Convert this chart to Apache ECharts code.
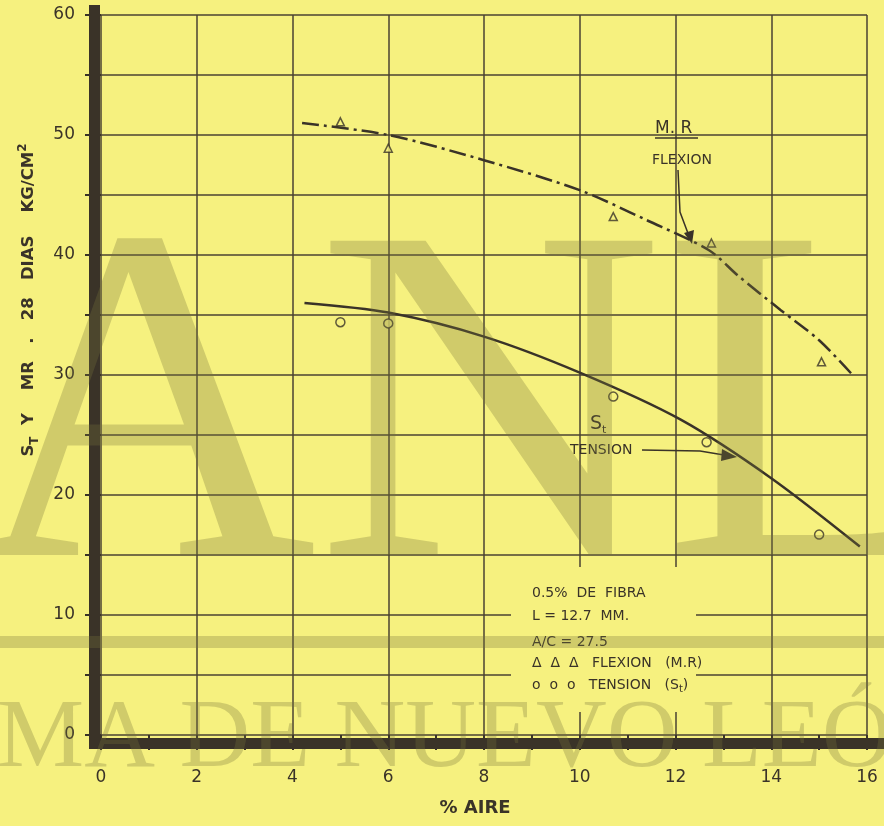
<!DOCTYPE html>
<html>
<head>
<meta charset="utf-8">
<script src="https://cdn.jsdelivr.net/npm/echarts@6/dist/echarts.min.js"></script>
<style>
html, body { margin: 0; padding: 0; background: #f6f17f; }
#chart { width: 884px; height: 826px; }
</style>
</head>
<body>
<div id="chart"></div>
<script>
// puntos medidos
let flexX = [5.0, 6.0, 10.7, 12.75, 15.05];
let flexY = [51.1, 48.9, 43.2, 41.0, 31.1];
let tensX = [5.0, 6.0, 10.7, 12.65, 15.0];
let tensY = [34.4, 34.3, 28.2, 24.4, 16.7];

// curvas trazadas
let mrCurveX = [4.2, 6, 8, 10, 11.4, 12.7, 13.3, 14.2, 15, 15.7];
let mrCurveY = [51.0, 50.0, 47.9, 45.4, 42.9, 40.4, 38.3, 35.4, 32.9, 30.0];
let stCurveX = [4.25, 6, 8, 10, 12.1, 14, 15.85];
let stCurveY = [36.0, 35.2, 33.2, 30.2, 26.3, 21.4, 15.7];

let xTicks = [0, 2, 4, 6, 8, 10, 12, 14, 16];
let yTicks = [0, 10, 20, 30, 40, 50, 60];

let bg = "#f6f17f";
let ink = "#3a3328";
let gridInk = "#4a4232";
let wm = "rgba(120, 115, 60, 0.30)";

function pairs(xs, ys) {
    return xs.map(function (x, i) { return [x, ys[i]]; });
}

let dom = document.getElementById("chart");
let myChart = echarts.init(dom, null, { renderer: "canvas" });

let labelFont = { fontFamily: "DejaVu Sans", color: ink };
let noteFont = "DejaVu Sans";

let option = {
    backgroundColor: bg,
    animation: false,
    grid: { left: 101, right: 17, top: 15, bottom: 91 },
    xAxis: {
        type: "value",
        min: xTicks[0],
        max: xTicks[xTicks.length - 1],
        interval: 2,
        offset: 8,
        axisLine: { show: false },
        axisTick: { show: true, length: 15, lineStyle: { color: ink, width: 2 } },
        minorTick: { show: true, splitNumber: 2, length: 15, lineStyle: { color: ink, width: 2 } },
        splitLine: { show: true, lineStyle: { color: gridInk, width: 1.5 } },
        axisLabel: Object.assign({ margin: 26, fontSize: 17 }, labelFont)
    },
    yAxis: {
        type: "value",
        min: yTicks[0],
        max: yTicks[yTicks.length - 1],
        interval: 5,
        offset: 6,
        axisLine: { show: false },
        axisTick: { show: true, length: 16, lineStyle: { color: ink, width: 2 } },
        splitLine: { show: true, lineStyle: { color: gridInk, width: 1.5 } },
        axisLabel: Object.assign({
            margin: 20,
            fontSize: 17,
            formatter: function (v) { return yTicks.indexOf(v) >= 0 ? String(v) : ""; }
        }, labelFont)
    },
    series: [
        {
            name: "M.R",
            type: "line",
            data: pairs(mrCurveX, mrCurveY),
            smooth: 0.3,
            showSymbol: false,
            lineStyle: { color: ink, width: 2.5, type: [17, 5, 3, 5] },
            z: 3
        },
        {
            name: "St",
            type: "line",
            data: pairs(stCurveX, stCurveY),
            smooth: 0.3,
            showSymbol: false,
            lineStyle: { color: ink, width: 2.5 },
            z: 3
        },
        {
            name: "FLEXION (M.R)",
            type: "scatter",
            data: pairs(flexX, flexY),
            symbol: "triangle",
            symbolSize: 8,
            itemStyle: { color: bg, borderColor: ink, borderWidth: 1.5 },
            z: 4
        },
        {
            name: "TENSION (St)",
            type: "scatter",
            data: pairs(tensX, tensY),
            symbol: "circle",
            symbolSize: 9,
            itemStyle: { color: bg, borderColor: ink, borderWidth: 1.5 },
            z: 4
        }
    ],
    graphic: [
        // zona en blanco detras de la leyenda
        { type: "rect", z: 1, silent: true, shape: { x: 511, y: 567, width: 185, height: 145 }, style: { fill: bg } },
        // ejes gruesos
        { type: "rect", z: 5, silent: true, shape: { x: 89, y: 5, width: 11, height: 744 }, style: { fill: ink } },
        { type: "rect", z: 5, silent: true, shape: { x: 89, y: 738, width: 795, height: 11 }, style: { fill: ink } },
        // titulo eje x
        { type: "text", z: 6, x: 475, y: 808, style: { text: "% AIRE", fontFamily: noteFont, fontWeight: "bold", fontSize: 18, fill: ink, align: "center", verticalAlign: "middle" } },
        // titulo eje y
        {
            type: "text", z: 6, x: 29, y: 300, rotation: Math.PI / 2,
            style: {
                text: "{a|S}{b|T}{a|  Y    MR   .   28   DIAS    KG/CM}{c|2}",
                align: "center", verticalAlign: "middle",
                rich: {
                    a: { fontFamily: noteFont, fontWeight: "bold", fontSize: 16.5, fill: ink, lineHeight: 24 },
                    b: { fontFamily: noteFont, fontWeight: "bold", fontSize: 12, fill: ink, verticalAlign: "bottom", lineHeight: 24 },
                    c: { fontFamily: noteFont, fontWeight: "bold", fontSize: 12, fill: ink, verticalAlign: "top", lineHeight: 24 }
                }
            }
        },
        // anotacion M.R
        { type: "text", z: 6, x: 655, y: 129, style: { text: "M. R", fontFamily: noteFont, fontSize: 17, fill: ink, verticalAlign: "middle" } },
        { type: "line", z: 6, shape: { x1: 655, y1: 138, x2: 698, y2: 138 }, style: { stroke: ink, lineWidth: 1.5 } },
        { type: "text", z: 6, x: 652, y: 160, style: { text: "FLEXION", fontFamily: noteFont, fontSize: 14, fill: ink, verticalAlign: "middle" } },
        { type: "polyline", z: 6, shape: { points: [[678, 170], [680, 212], [689, 236]] }, style: { stroke: ink, lineWidth: 1.5, fill: null } },
        { type: "polygon", z: 6, shape: { points: [[684, 233], [694, 230], [692, 244]] }, style: { fill: ink } },
        // anotacion St
        {
            type: "text", z: 6, x: 590, y: 424,
            style: {
                text: "{s|S}{t|t}", verticalAlign: "middle",
                rich: {
                    s: { fontFamily: noteFont, fontSize: 19, fill: ink, lineHeight: 24 },
                    t: { fontFamily: noteFont, fontSize: 11, fill: ink, verticalAlign: "bottom", lineHeight: 24 }
                }
            }
        },
        { type: "text", z: 6, x: 570, y: 450, style: { text: "TENSION", fontFamily: noteFont, fontSize: 14, fill: ink, verticalAlign: "middle" } },
        { type: "polyline", z: 6, shape: { points: [[642, 450], [700, 451], [724, 455]] }, style: { stroke: ink, lineWidth: 1.5, fill: null } },
        { type: "polygon", z: 6, shape: { points: [[722, 449], [737, 457], [721, 461]] }, style: { fill: ink } },
        // leyenda
        { type: "text", z: 6, x: 532, y: 593, style: { text: "0.5%  DE  FIBRA", fontFamily: noteFont, fontSize: 14, fill: ink, verticalAlign: "middle" } },
        { type: "text", z: 6, x: 532, y: 616, style: { text: "L = 12.7  MM.", fontFamily: noteFont, fontSize: 14, fill: ink, verticalAlign: "middle" } },
        { type: "text", z: 6, x: 532, y: 642, style: { text: "A/C = 27.5", fontFamily: noteFont, fontSize: 14, fill: ink, verticalAlign: "middle" } },
        { type: "text", z: 6, x: 532, y: 663, style: { text: "Δ  Δ  Δ   FLEXION   (M.R)", fontFamily: noteFont, fontSize: 14, fill: ink, verticalAlign: "middle" } },
        {
            type: "text", z: 6, x: 532, y: 685,
            style: {
                text: "{a|o  o  o   TENSION   (S}{b|t}{a|)}", verticalAlign: "middle",
                rich: {
                    a: { fontFamily: noteFont, fontSize: 14, fill: ink, lineHeight: 18 },
                    b: { fontFamily: noteFont, fontSize: 10, fill: ink, verticalAlign: "bottom", lineHeight: 18 }
                }
            }
        },
        // marca de agua
        { type: "text", z: 100, silent: true, x: -30, y: 429, style: { text: "ANL", font: "480px 'Liberation Serif'", fill: wm, verticalAlign: "middle" } },
        { type: "rect", z: 100, silent: true, shape: { x: 0, y: 636, width: 884, height: 12 }, style: { fill: wm } },
        { type: "text", z: 100, silent: true, x: -3, y: 740, style: { text: "MA DE NUEVO LEÓN", font: "98px 'Liberation Serif'", fill: wm, verticalAlign: "middle" } }
    ]
};

myChart.setOption(option);
window.addEventListener("resize", myChart.resize);
</script>
</body>
</html>
